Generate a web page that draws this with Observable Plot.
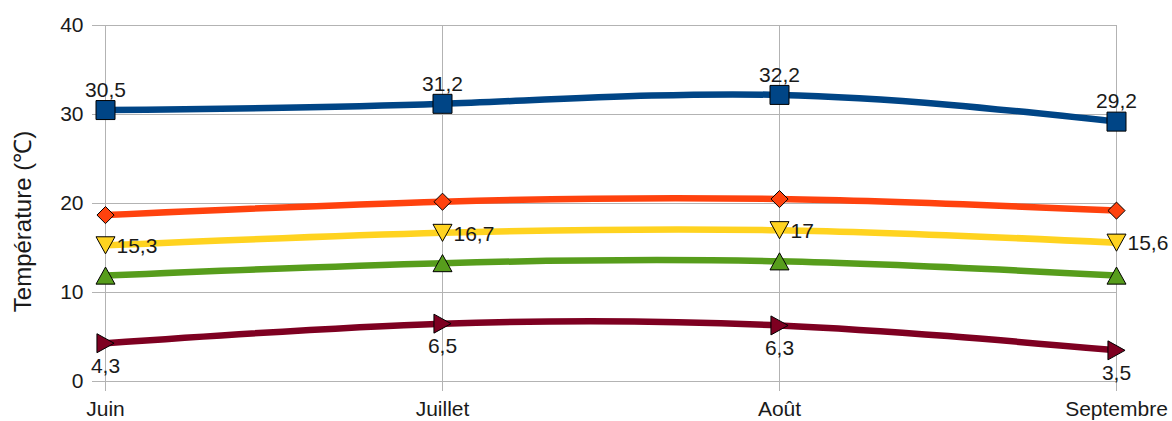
<!DOCTYPE html>
<html>
<head>
<meta charset="utf-8">
<script src="https://cdn.jsdelivr.net/npm/d3@7"></script>
<script src="https://cdn.jsdelivr.net/npm/@observablehq/plot@0.6"></script>
<style>
  html, body { margin: 0; padding: 0; background: #fff; }
</style>
</head>
<body>
<div id="chart"></div>
<script>
const months = ["Juin", "Juillet", "Août", "Septembre"];
const seriesNames = ["Max", "Moy max", "Moy", "Moy min", "Min"];
const blueValues = [30.5, 31.2, 32.2, 29.2];
const redValues = [18.7, 20.2, 20.5, 19.2];
const yellowValues = [15.3, 16.7, 17, 15.6];
const greenValues = [11.9, 13.3, 13.5, 11.9];
const darkRedValues = [4.3, 6.5, 6.3, 3.5];
const yTicks = [0, 10, 20, 30, 40];
const yTitle = "Température (℃)";

const colors = ["#004586", "#ff420e", "#ffd320", "#579d1c", "#7e0021"];
const allValues = [blueValues, redValues, yellowValues, greenValues, darkRedValues];
const labelPos = ["top", null, "right", null, "bottom"];

const symSquare = { draw(c, s) { const r = Math.sqrt(s / Math.PI); c.rect(-r, -r, 2 * r, 2 * r); } };
const symDiamond = { draw(c, s) { const r = Math.sqrt(s / Math.PI) * 0.9; c.moveTo(0, -r); c.lineTo(r, 0); c.lineTo(0, r); c.lineTo(-r, 0); c.closePath(); } };
const symDown = { draw(c, s) { const r = Math.sqrt(s / Math.PI); c.moveTo(-r, -r * 0.9); c.lineTo(r, -r * 0.9); c.lineTo(0, r * 0.9); c.closePath(); } };
const symUp = { draw(c, s) { const r = Math.sqrt(s / Math.PI); c.moveTo(-r, r * 0.9); c.lineTo(r, r * 0.9); c.lineTo(0, -r * 0.9); c.closePath(); } };
const symRight = { draw(c, s) { const r = Math.sqrt(s / Math.PI); c.moveTo(-r * 0.9, -r); c.lineTo(r * 0.9, 0); c.lineTo(-r * 0.9, r); c.closePath(); } };
const symbols = [symSquare, symDiamond, symDown, symUp, symRight];

const data = [];
allValues.forEach((vals, si) => {
  vals.forEach((v, i) => data.push({ series: seriesNames[si], si, month: months[i], value: v }));
});
const fmt = v => String(v).replace(".", ",");

const marks = [
  Plot.gridY({ ticks: yTicks, stroke: "#b3b3b3", strokeOpacity: 1 }),
  Plot.gridX({ stroke: "#b3b3b3", strokeOpacity: 1 }),
  Plot.axisY({ ticks: yTicks, tickSize: 12, tickPadding: 9, stroke: "#b3b3b3", fill: "#1a1a1a", fontSize: 21, label: null }),
  Plot.axisX({ tickSize: 10, tickPadding: 10, stroke: "#b3b3b3", fill: "#1a1a1a", fontSize: 21, label: null }),
  Plot.text([yTitle], { frameAnchor: "left", textAnchor: "middle", rotate: -90, dx: -81, dy: 18, fontSize: 24, fill: "#1a1a1a" })
];
seriesNames.forEach((name, si) => {
  marks.push(Plot.line(data.filter(d => d.si === si), {
    x: "month", y: "value", stroke: colors[si], strokeWidth: 6.5, curve: "natural"
  }));
});
seriesNames.forEach((name, si) => {
  marks.push(Plot.dot(data.filter(d => d.si === si), {
    x: "month", y: "value", fill: colors[si], stroke: "#000", strokeWidth: 1,
    symbol: symbols[si], r: 9.5
  }));
  const pos = labelPos[si];
  if (pos) {
    const opts = { x: "month", y: "value", text: d => fmt(d.value), fontSize: 21, fill: "#1a1a1a" };
    if (pos === "top") Object.assign(opts, { dy: -20 });
    if (pos === "bottom") Object.assign(opts, { dy: 23 });
    if (pos === "right") Object.assign(opts, { dx: 11, dy: 1, textAnchor: "start" });
    marks.push(Plot.text(data.filter(d => d.si === si), opts));
  }
});

const chart = Plot.plot({
  width: 1172,
  height: 421,
  marginLeft: 104,
  marginRight: 56,
  marginTop: 25,
  marginBottom: 40,
  style: { fontFamily: "'Liberation Sans', Arial, sans-serif", background: "#fff", overflow: "visible" },
  x: { type: "point", domain: months, padding: 0, axis: null },
  y: { domain: [0, 40], axis: null },
  marks
});
document.getElementById("chart").appendChild(chart);
</script>
</body>
</html>
